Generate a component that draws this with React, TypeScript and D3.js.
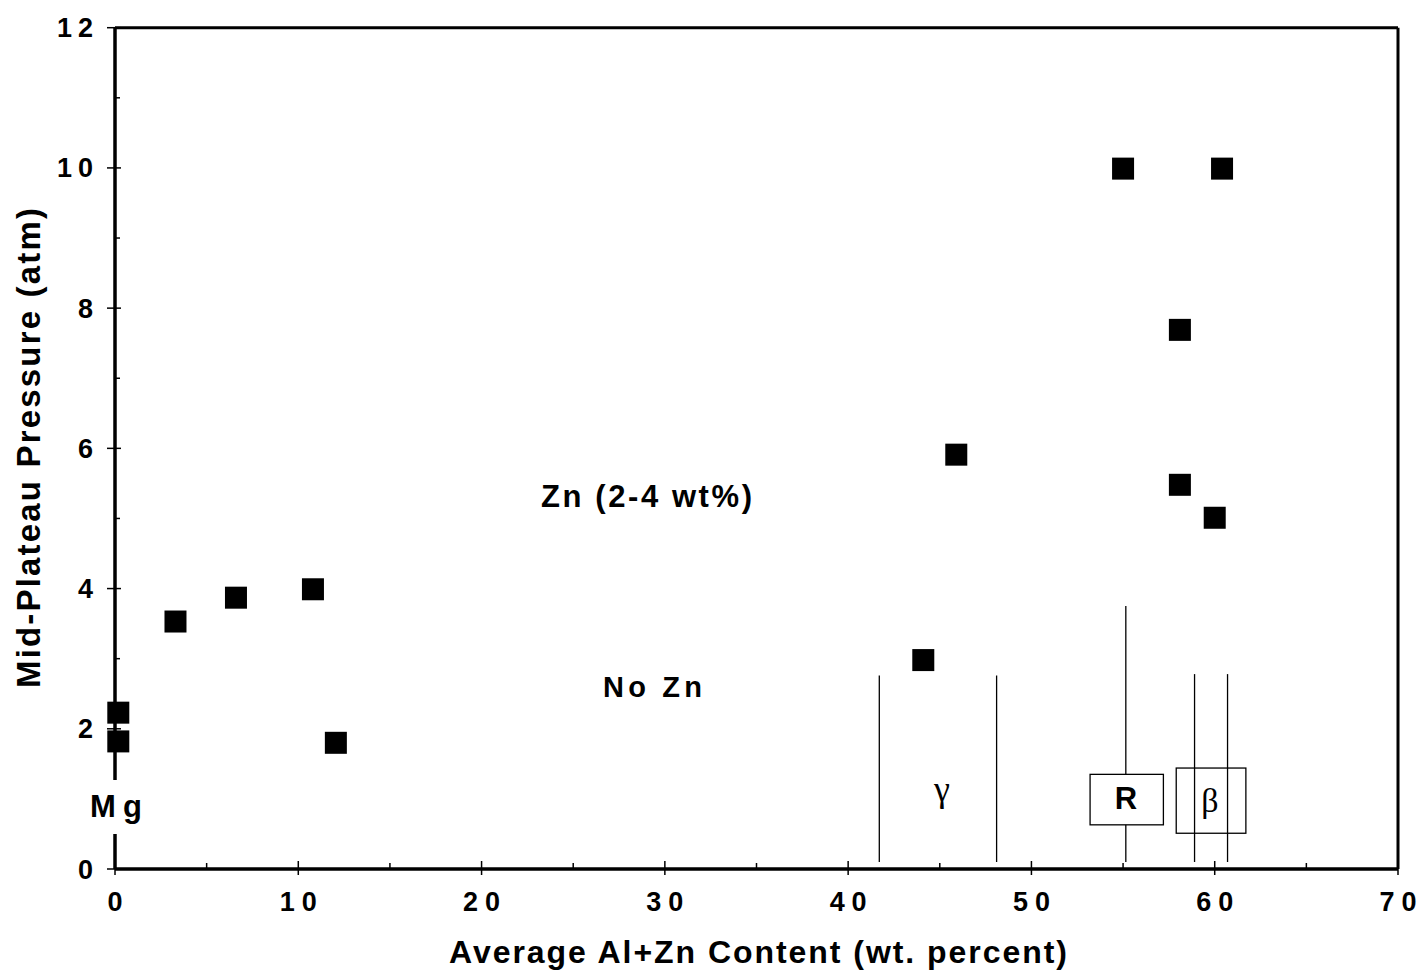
import React from "react";
import * as d3 from "d3";

const W = 1422;
const H = 972;

// Data points (Average Al+Zn content wt%, mid-plateau pressure atm)
const contentX = [0.18, 0.18, 3.3, 6.6, 10.8, 12.05, 44.1, 45.9, 55.0, 60.4, 58.1, 58.1, 60.0];
const pressureY = [2.23, 1.82, 3.53, 3.87, 3.99, 1.8, 2.98, 5.91, 9.99, 9.99, 7.69, 5.48, 5.01];

// Phase boundary lines
const phaseLineX = [41.7, 48.1, 55.15, 58.9, 60.7];
const phaseLineTop = [2.76, 2.76, 3.75, 2.78, 2.78];
const phaseLineBottom = 0.1;

const xTicks = [0, 10, 20, 30, 40, 50, 60, 70];
const yTicks = [0, 2, 4, 6, 8, 10, 12];
const xMinor = [5, 15, 25, 35, 45, 55, 65];
const yMinor = [1, 3, 5, 7, 9, 11];

const SANS = "'Liberation Sans', Arial, Helvetica, sans-serif";
const SERIF = "'Liberation Serif', 'Times New Roman', serif";

export default function App() {
  const x = d3.scaleLinear().domain([0, 70]).range([115, 1398]);
  const y = d3.scaleLinear().domain([0, 12]).range([869, 27.7]);
  const sq = 22;

  return (
    <svg
      width={W}
      height={H}
      viewBox={`0 0 ${W} ${H}`}
      style={{ position: "absolute", left: 0, top: 0, background: "#fff" }}
    >
      <rect x={0} y={0} width={W} height={H} fill="#fff" />

      {/* frame */}
      <line x1={x(0)} x2={x(70)} y1={y(12)} y2={y(12)} stroke="#000" strokeWidth={3} />
      <line x1={x(70)} x2={x(70)} y1={y(12)} y2={y(0)} stroke="#000" strokeWidth={3} />
      <line x1={x(0)} x2={x(70)} y1={y(0)} y2={y(0)} stroke="#000" strokeWidth={3.5} />
      <line x1={x(0)} x2={x(0)} y1={y(12)} y2={y(0)} stroke="#000" strokeWidth={3.5} />

      {/* y ticks */}
      {yTicks.map((t) => (
        <line key={"yt" + t} x1={x(0) - 8} x2={x(0) + 6} y1={y(t)} y2={y(t)} stroke="#000" strokeWidth={1.5} />
      ))}
      {yMinor.map((t) => (
        <line key={"ym" + t} x1={x(0)} x2={x(0) + 5} y1={y(t)} y2={y(t)} stroke="#000" strokeWidth={1.5} />
      ))}
      {/* x ticks */}
      {xTicks.map((t) => (
        <line key={"xt" + t} x1={x(t)} x2={x(t)} y1={y(0) - 8} y2={y(0) + 6} stroke="#000" strokeWidth={1.5} />
      ))}
      {xMinor.map((t) => (
        <line key={"xm" + t} x1={x(t)} x2={x(t)} y1={y(0) - 6} y2={y(0)} stroke="#000" strokeWidth={1.5} />
      ))}

      {/* y tick labels */}
      {yTicks.map((t) => {
        const s = String(t);
        return (
          <text
            key={"yl" + t}
            x={93}
            y={y(t) + 9.5}
            textAnchor="end"
            fontFamily={SANS}
            fontWeight="bold"
            fontSize={27}
            {...(s.length > 1 ? { textLength: 36, lengthAdjust: "spacing" } : {})}
          >
            {s}
          </text>
        );
      })}
      {/* x tick labels */}
      {xTicks.map((t) => {
        const s = String(t);
        return (
          <text
            key={"xl" + t}
            x={x(t)}
            y={911}
            textAnchor="middle"
            fontFamily={SANS}
            fontWeight="bold"
            fontSize={27}
            {...(s.length > 1 ? { textLength: 37, lengthAdjust: "spacing" } : {})}
          >
            {s}
          </text>
        );
      })}

      {/* phase boundary lines */}
      {phaseLineX.map((v, i) => (
        <line
          key={"pl" + i}
          x1={x(v)}
          x2={x(v)}
          y1={y(phaseLineTop[i])}
          y2={y(phaseLineBottom)}
          stroke="#000"
          strokeWidth={1.3}
        />
      ))}

      {/* R box (opaque) */}
      <rect x={x(53.2)} y={y(1.35)} width={x(57.2) - x(53.2)} height={y(0.63) - y(1.35)} fill="#fff" stroke="#000" strokeWidth={1.3} />
      <text x={x(55.15)} y={809} textAnchor="middle" fontFamily={SANS} fontWeight="bold" fontSize={31}>R</text>
      {/* beta box (transparent) */}
      <rect x={x(57.9)} y={y(1.44)} width={x(61.7) - x(57.9)} height={y(0.51) - y(1.44)} fill="none" stroke="#000" strokeWidth={1.3} />
      <text x={1210} y={812} textAnchor="middle" fontFamily={SERIF} fontSize={34}>β</text>
      <text x={942} y={801} textAnchor="middle" fontFamily={SERIF} fontSize={36}>γ</text>

      {/* Mg label with white background breaking the axis */}
      <rect x={100} y={780} width={30} height={54} fill="#fff" />
      <text x={90} y={817} fontFamily={SANS} fontWeight="bold" fontSize={31} textLength={52} lengthAdjust="spacing">Mg</text>

      {/* annotations */}
      <text x={541} y={507} fontFamily={SANS} fontWeight="bold" fontSize={31} textLength={211} lengthAdjust="spacing">Zn (2-4 wt%)</text>
      <text x={603} y={697} fontFamily={SANS} fontWeight="bold" fontSize={29} textLength={99} lengthAdjust="spacing">No Zn</text>

      {/* data squares */}
      {contentX.map((v, i) => (
        <rect key={"p" + i} x={x(v) - sq / 2} y={y(pressureY[i]) - sq / 2} width={sq} height={sq} fill="#000" />
      ))}

      {/* axis titles */}
      <text x={449} y={963} fontFamily={SANS} fontWeight="bold" fontSize={32} textLength={618} lengthAdjust="spacing">
        Average Al+Zn Content (wt. percent)
      </text>
      <text
        transform={`translate(40, 688) rotate(-90)`}
        fontFamily={SANS}
        fontWeight="bold"
        fontSize={33}
        textLength={480}
        lengthAdjust="spacing"
      >
        Mid-Plateau Pressure (atm)
      </text>
    </svg>
  );
}
